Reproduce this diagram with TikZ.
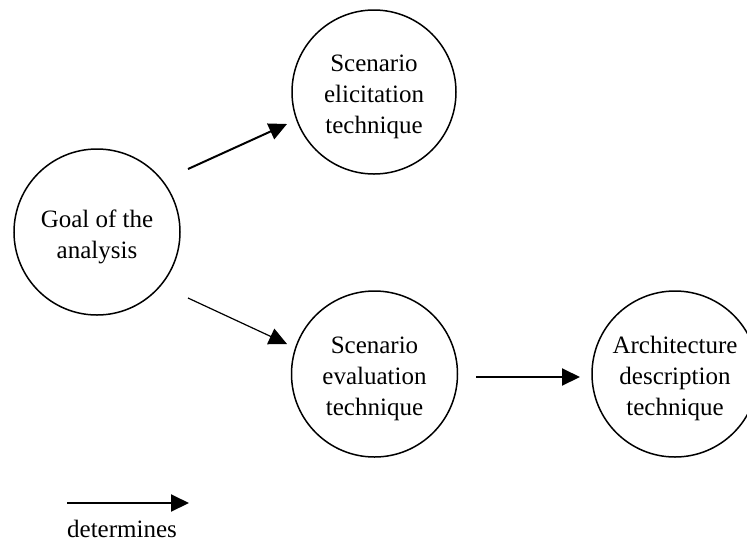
\documentclass[tikz,border=0pt]{standalone}
\usepackage{fontspec}
\setmainfont{Liberation Serif}
\usetikzlibrary{arrows.meta}
\newcommand{\topgap}{\rule{0pt}{27pt}}
\tikzset{
  bubble/.style={draw, circle, line width=1.5pt, minimum size=166pt, inner sep=0pt, align=center,
    font=\fontsize{25}{31}\selectfont},
  link/.style={line width=2pt, -{Triangle[length=18pt,width=17pt]}},
  thinlink/.style={line width=1.2pt, -{Triangle[length=18pt,width=17pt]}},
}
\begin{document}
\begin{tikzpicture}[x=1pt,y=-1pt]
\useasboundingbox (0,0) rectangle (747,542);
\node[bubble] (goal) at (97,232) {\topgap Goal of the\\analysis};
\node[bubble, minimum size=164pt] (elic) at (374,92) {\topgap Scenario\\elicitation\\technique};
\node[bubble] (eval) at (374.5,374) {\topgap Scenario\\evaluation\\technique};
\node[bubble] (arch) at (675,374) {\topgap Architecture\\description\\technique};
\coordinate (a1) at (188,169);
\coordinate (a2) at (287,124);
\coordinate (b1) at (188,298);
\coordinate (b2) at (287,344);
\coordinate (c1) at (476,377);
\coordinate (c2) at (580,377);
\coordinate (l1) at (67,503);
\coordinate (l2) at (189,503);
\draw[link] (a1) -- (a2);
\draw[thinlink] (b1) -- (b2);
\draw[link] (c1) -- (c2);
\draw[link] (l1) -- (l2);
\node[anchor=base, font=\fontsize{25}{31}\selectfont, inner sep=0pt] (leg) at (122,537) {determines};
\end{tikzpicture}
\end{document}
